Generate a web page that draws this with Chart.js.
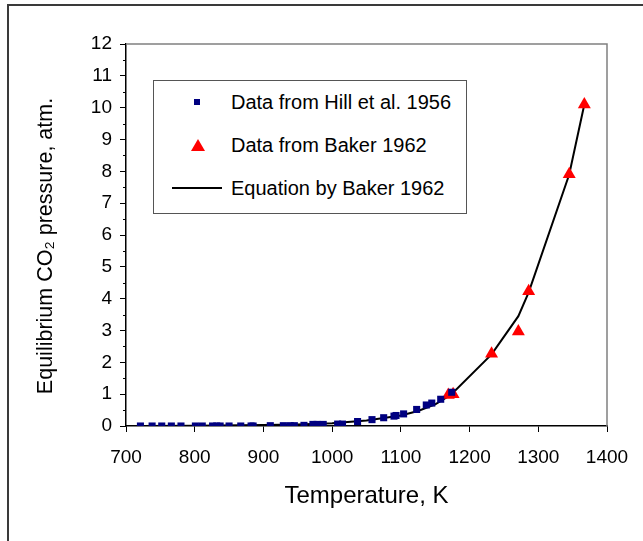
<!DOCTYPE html>
<html>
<head>
<meta charset="utf-8">
<script src="https://cdn.jsdelivr.net/npm/chart.js@4"></script>
<style>
  html, body { margin: 0; padding: 0; background: #fff; overflow: hidden; }
  #wrap { position: relative; width: 643px; height: 541px; font-family: "Liberation Sans", Arial, sans-serif; }
  #frame { position: absolute; left: 7px; top: 4px; width: 700px; height: 600px; border-top: 2px solid #3a3a3a; border-left: 2px solid #3a3a3a; }
  canvas { position: absolute; left: 0; top: 0; }
  #legend { position: absolute; left: 153px; top: 80px; width: 312px; height: 132px; border: 1px solid #555; background: #fff; }
  .lg-text { position: absolute; left: 77px; font-size: 20px; line-height: 20px; color: #000; white-space: nowrap; }
  .lg-sq { position: absolute; width: 6px; height: 6px; background: #000080; }
  .lg-tri { position: absolute; width: 0; height: 0; border-left: 7px solid transparent; border-right: 7px solid transparent; border-bottom: 12px solid #ff0000; }
  .lg-line { position: absolute; width: 50px; height: 2px; background: #000; }
</style>
</head>
<body>
<div id="wrap">
  <div id="frame"></div>
  <canvas id="chart" width="643" height="541"></canvas>
  <div id="legend">
    <div class="lg-sq" style="left:40px; top:18px;"></div>
    <div class="lg-text" style="top:11px;">Data from Hill et al. 1956</div>
    <div class="lg-tri" style="left:37px; top:58px;"></div>
    <div class="lg-text" style="top:54px;">Data from Baker 1962</div>
    <div class="lg-line" style="left:18px; top:106px;"></div>
    <div class="lg-text" style="top:97px;">Equation by Baker 1962</div>
  </div>
</div>
<script>
  // Hill et al. 1956 (temperature K, pressure atm)
  const hillT = [721, 738, 752, 766, 780, 801, 811, 826, 832, 837, 850, 867, 882, 885,
                 910, 929, 939, 945, 959, 972, 978, 987, 1008, 1015, 1037, 1058, 1075,
                 1090, 1093, 1104, 1123, 1137, 1145, 1158, 1174];
  const hillP = [0, 0, 0, 0, 0, 0, 0, 0, 0, 0, 0, 0, 0, 0,
                 0.01, 0.01, 0.01, 0.01, 0.02, 0.05, 0.05, 0.05, 0.06, 0.06, 0.14, 0.2, 0.26,
                 0.31, 0.33, 0.38, 0.52, 0.66, 0.72, 0.84, 1.06];

  // Baker 1962 data
  const bakerT = [1169, 1176, 1232, 1271, 1286, 1345, 1367];
  const bakerP = [0.97, 1.0, 2.27, 2.97, 4.23, 7.91, 10.1];

  // Equation by Baker 1962
  const eqT = [720, 800, 900, 950, 1000, 1050, 1100, 1125, 1150, 1173, 1232, 1271, 1286, 1345, 1367];
  const eqP = [0, 0.01, 0.03, 0.05, 0.09, 0.17, 0.33, 0.47, 0.68, 0.98, 2.25, 3.45, 4.2, 7.9, 10.1];

  const xMin = 700, xMax = 1400, xStep = 100;
  const yMin = 0, yMax = 12, yStep = 1;
  const yTitle = 'Equilibrium CO\u2082 pressure, atm.';

  const pts = (xs, ys) => xs.map((t, i) => ({ x: t, y: ys[i] }));

  const plotExtras = {
    id: 'plotExtras',
    beforeDatasetsDraw(chart) {
      const { ctx, chartArea: a, scales: { y } } = chart;
      ctx.save();
      // grey top/right border of plot area
      ctx.strokeStyle = '#808080';
      ctx.lineWidth = 1.5;
      ctx.beginPath();
      ctx.moveTo(a.left, a.top);
      ctx.lineTo(a.right, a.top);
      ctx.lineTo(a.right, a.bottom);
      ctx.stroke();
      // minor ticks on y axis
      ctx.strokeStyle = '#000';
      ctx.lineWidth = 1;
      for (let v = yMin + yStep / 2; v < yMax; v += yStep) {
        const py = Math.round(y.getPixelForValue(v)) + 0.5;
        ctx.beginPath();
        ctx.moveTo(a.left - 3, py);
        ctx.lineTo(a.left, py);
        ctx.stroke();
      }
      // y axis title, sits a bit below the plot centre like the original
      ctx.fillStyle = '#000';
      ctx.font = '21.5px "Liberation Sans", Arial, sans-serif';
      ctx.textAlign = 'center';
      ctx.textBaseline = 'middle';
      ctx.translate(46, (a.top + a.bottom) / 2 + 11);
      ctx.rotate(-Math.PI / 2);
      ctx.fillText(yTitle, 0, 0);
      ctx.restore();
    }
  };

  new Chart(document.getElementById('chart'), {
    type: 'scatter',
    data: {
      datasets: [
        {
          label: 'Data from Hill et al. 1956',
          data: pts(hillT, hillP),
          pointStyle: 'rect',
          pointRadius: 5,
          backgroundColor: '#000080',
          borderColor: '#000080',
          borderWidth: 0,
          order: 1
        },
        {
          label: 'Data from Baker 1962',
          data: pts(bakerT, bakerP),
          pointStyle: 'triangle',
          pointRadius: 7.5,
          backgroundColor: '#ff0000',
          borderColor: '#ff0000',
          borderWidth: 0,
          order: 2
        },
        {
          label: 'Equation by Baker 1962',
          data: pts(eqT, eqP),
          showLine: true,
          pointRadius: 0,
          borderColor: '#000',
          borderWidth: 2,
          tension: 0,
          order: 3
        }
      ]
    },
    options: {
      responsive: false,
      animation: false,
      layout: { padding: { left: 0, top: 44, right: 36, bottom: 0 } },
      plugins: { legend: { display: false }, tooltip: { enabled: false } },
      scales: {
        x: {
          type: 'linear',
          min: xMin, max: xMax,
          afterFit(s) { s.height = 115; },
          ticks: { stepSize: xStep, color: '#000', padding: 14, callback: v => String(v),
                   font: { family: 'Liberation Sans', size: 19 } },
          grid: { drawOnChartArea: false, tickLength: 6, color: '#000' },
          border: { color: '#000', width: 1.5 },
          title: { display: true, text: 'Temperature, K', color: '#000', padding: { bottom: 30 },
                   font: { family: 'Liberation Sans', size: 24 } }
        },
        y: {
          type: 'linear',
          min: yMin, max: yMax,
          afterFit(s) { s.width = 126; },
          ticks: { stepSize: yStep, color: '#000', padding: 8, callback: v => String(v),
                   font: { family: 'Liberation Sans', size: 19 } },
          grid: { drawOnChartArea: false, tickLength: 6, color: '#000' },
          border: { color: '#000', width: 1.5 },
          title: { display: false }
        }
      }
    },
    plugins: [plotExtras]
  });
</script>
</body>
</html>
